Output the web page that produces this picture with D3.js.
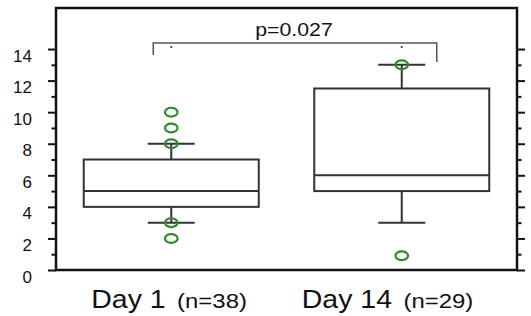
<!DOCTYPE html>
<html>
<head>
<meta charset="utf-8">
<script src="https://cdn.jsdelivr.net/npm/d3@7"></script>
<style>
  body { margin: 0; background: #fff; }
  svg { display: block; font-family: "Liberation Sans", Arial, Helvetica, sans-serif; }
</style>
</head>
<body>
<div id="chart"></div>
<script>
// data
let groups = ["Day 1", "Day 14"];
let groupN = ["(n=38)", "(n=29)"];
let q1 = [4, 5];
let medians = [5, 6];
let q3 = [7, 11.5];
let whiskerLow = [3, 3];
let whiskerHigh = [8, 13];
let outliers = [
  [10, 9, 8, 3, 2],
  [13, 0.9]
];
let yTicks = [0, 2, 4, 6, 8, 10, 12, 14];
let yMinorTicks = [1, 3, 5, 7, 9, 11, 13];
let pLabel = "p=0.027";

let width = 531, height = 316;
let margin = { top: 8, right: 14, bottom: 46, left: 56 };
let innerW = width - margin.left - margin.right,
  innerH = height - margin.top - margin.bottom;

let svg = d3.select("#chart")
  .append("svg")
  .attr("width", width)
  .attr("height", height)
  .append("g")
  .attr("transform", "translate(" + margin.left + "," + margin.top + ")");

let x = d3.scalePoint().domain(groups).range([0, innerW]).padding(0.5);
let y = d3.scaleLinear().domain([0, 16.6]).range([innerH, 0]);

let boxHalf = 87.5, capHalf = 23.5;
let boxColor = "#333", green = "#2f8a2f";

function styleTicks(g) {
  g.select(".domain").remove();
  g.selectAll("line").attr("stroke", "#111").attr("stroke-width", 2);
}

// left axis ticks
svg.append("g").call(d3.axisLeft(y).tickValues(yTicks).tickSize(8).tickFormat("")).call(styleTicks);
svg.append("g").call(d3.axisLeft(y).tickValues(yMinorTicks).tickSize(4.5).tickFormat("")).call(styleTicks);

// right axis ticks
svg.append("g").attr("transform", "translate(" + innerW + ",0)")
  .call(d3.axisRight(y).tickValues(yTicks).tickSize(8).tickFormat("")).call(styleTicks);
svg.append("g").attr("transform", "translate(" + innerW + ",0)")
  .call(d3.axisRight(y).tickValues(yMinorTicks).tickSize(4.5).tickFormat("")).call(styleTicks);

// tick labels, sitting a little below their ticks
svg.selectAll(".ylab")
  .data(yTicks)
  .enter()
  .append("text")
  .attr("class", "ylab")
  .attr("x", -24)
  .attr("y", function (d) { return y(d) + 12.5; })
  .attr("text-anchor", "end")
  .style("font-size", "17px")
  .attr("fill", "#111")
  .text(function (d) { return d; });

// frame
svg.append("rect")
  .attr("x", 0).attr("y", 0)
  .attr("width", innerW).attr("height", innerH)
  .attr("fill", "none")
  .attr("stroke", "#111")
  .attr("stroke-width", 2.5);

let boxes = svg.selectAll(".box")
  .data(groups)
  .enter()
  .append("g")
  .attr("class", "box");

// whiskers
boxes.append("line")
  .attr("x1", function (d) { return x(d); })
  .attr("x2", function (d) { return x(d); })
  .attr("y1", function (d, i) { return y(whiskerLow[i]); })
  .attr("y2", function (d, i) { return y(q1[i]); })
  .attr("stroke", boxColor).attr("stroke-width", 2);
boxes.append("line")
  .attr("x1", function (d) { return x(d); })
  .attr("x2", function (d) { return x(d); })
  .attr("y1", function (d, i) { return y(whiskerHigh[i]); })
  .attr("y2", function (d, i) { return y(q3[i]); })
  .attr("stroke", boxColor).attr("stroke-width", 2);
boxes.append("line")
  .attr("x1", function (d) { return x(d) - capHalf; })
  .attr("x2", function (d) { return x(d) + capHalf; })
  .attr("y1", function (d, i) { return y(whiskerLow[i]); })
  .attr("y2", function (d, i) { return y(whiskerLow[i]); })
  .attr("stroke", boxColor).attr("stroke-width", 2);
boxes.append("line")
  .attr("x1", function (d) { return x(d) - capHalf; })
  .attr("x2", function (d) { return x(d) + capHalf; })
  .attr("y1", function (d, i) { return y(whiskerHigh[i]); })
  .attr("y2", function (d, i) { return y(whiskerHigh[i]); })
  .attr("stroke", boxColor).attr("stroke-width", 2);

// box
boxes.append("rect")
  .attr("x", function (d) { return x(d) - boxHalf; })
  .attr("y", function (d, i) { return y(q3[i]); })
  .attr("width", boxHalf * 2)
  .attr("height", function (d, i) { return y(q1[i]) - y(q3[i]); })
  .attr("fill", "none")
  .attr("stroke", boxColor).attr("stroke-width", 2);
boxes.append("line")
  .attr("x1", function (d) { return x(d) - boxHalf; })
  .attr("x2", function (d) { return x(d) + boxHalf; })
  .attr("y1", function (d, i) { return y(medians[i]); })
  .attr("y2", function (d, i) { return y(medians[i]); })
  .attr("stroke", boxColor).attr("stroke-width", 2);

// outliers
boxes.each(function (d, i) {
  d3.select(this).selectAll("ellipse")
    .data(outliers[i])
    .enter()
    .append("ellipse")
    .attr("cx", x(d))
    .attr("cy", function (v) { return y(v); })
    .attr("rx", 6.3)
    .attr("ry", 4.4)
    .attr("fill", "none")
    .attr("stroke", green)
    .attr("stroke-width", 2.2);
});

// significance bracket
let bY = 35, bL = x(groups[0]) - 18, bR = x(groups[1]) + 35;
svg.append("path")
  .attr("d", "M" + bL + "," + (bY + 12) + "V" + bY + "H" + bR + "V" + (bY + 19))
  .attr("fill", "none")
  .attr("stroke", "#555")
  .attr("stroke-width", 1.5);
svg.selectAll(".sigdot")
  .data(groups)
  .enter()
  .append("circle")
  .attr("cx", function (d) { return x(d); })
  .attr("cy", bY + 4)
  .attr("r", 1.1)
  .attr("fill", "#333");
svg.append("g")
  .attr("transform", "translate(" + ((bL + bR) / 2 - 1) + "," + (bY - 7) + ") scale(1.15,1)")
  .append("text")
  .attr("text-anchor", "middle")
  .style("font-size", "18.5px")
  .attr("fill", "#111")
  .text(pLabel);

// x labels (slightly wide lettering, as in the original)
let xl = svg.selectAll(".xlab")
  .data(groups)
  .enter()
  .append("g")
  .attr("class", "xlab")
  .attr("transform", function (d, i) {
    return "translate(" + (x(d) - (i === 0 ? 80 : 100)) + "," + (innerH + 38) + ") scale(1.14,1)";
  })
  .append("text")
  .attr("fill", "#111");
xl.append("tspan")
  .style("font-size", "25px")
  .text(function (d) { return d; });
xl.append("tspan")
  .attr("dx", 10)
  .style("font-size", "21px")
  .text(function (d, i) { return groupN[i]; });
</script>
</body>
</html>
